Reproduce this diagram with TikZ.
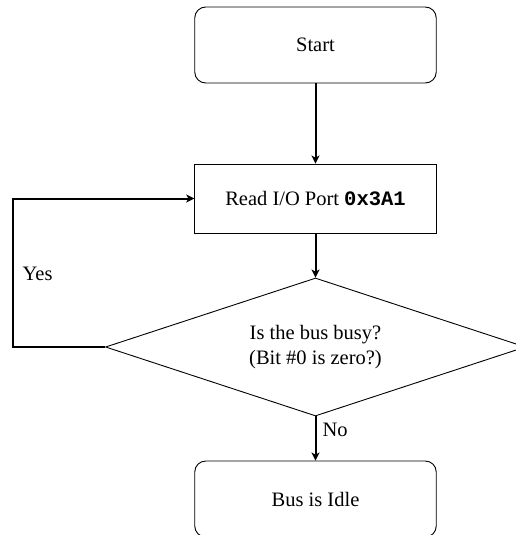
\documentclass[tikz,border=0pt]{standalone}
\usepackage{fontspec}
\setmainfont{Liberation Serif}
\setmonofont{Liberation Mono}
\usetikzlibrary{shapes.geometric,arrows.meta}
\tikzset{
  base/.style={draw, line width=0.9pt, align=center, font=\fontsize{20.5}{25}\selectfont, inner sep=0pt},
  term/.style={base, rounded corners=11pt, minimum width=241.5pt, minimum height=76pt},
  proc/.style={base, minimum width=241.5pt, minimum height=69pt},
  decision/.style={base, diamond, aspect=3.04, minimum width=420pt, minimum height=138pt},
  conn/.style={line width=2pt, -{Stealth[length=8pt,width=8pt,inset=2pt]}},
  lbl/.style={font=\fontsize{20.5}{25}\selectfont, inner sep=0pt}
}
\begin{document}
\begin{tikzpicture}[x=1pt,y=-1pt]
\useasboundingbox (0,0) rectangle (516,535);
\node[term] (start) at (315.5,45) {Start};
\node[proc] (read) at (315.5,198.5) {Read I/O Port \texttt{\textbf{0x3A1}}};
\node[decision] (dec) at (315.5,347) {Is the bus busy?\\(Bit \#0 is zero?)};
\node[term] (idle) at (315.5,499) {Bus is Idle};
\coordinate (lp) at (12.7,347);
\draw[conn] (start) -- (read);
\draw[conn] (read) -- (dec);
\draw[conn] (dec.south) -- (idle.north) node[lbl, pos=0.3, right=6pt] (no) {No};
\draw[conn] (dec.west) -- (lp) |- (read.west) node[lbl, pos=0.245, right=9pt] (yes) {Yes};
\end{tikzpicture}
\end{document}
